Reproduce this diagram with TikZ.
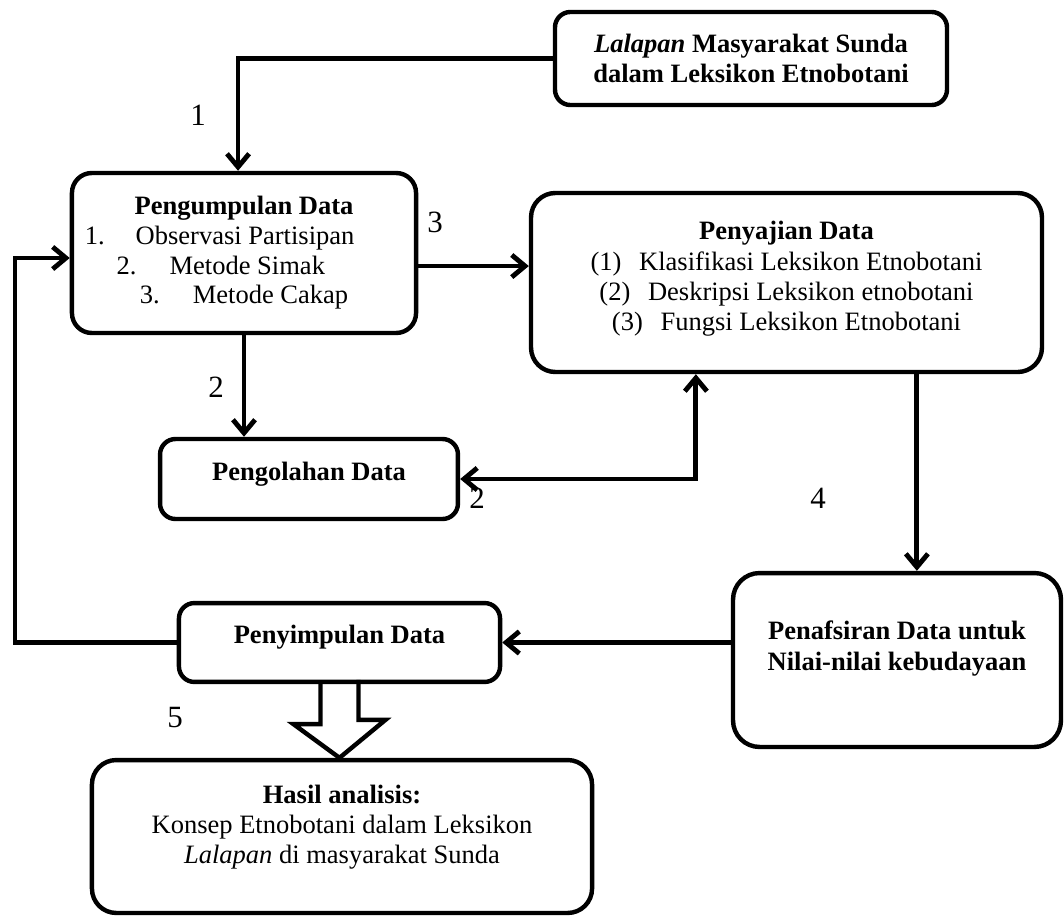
\documentclass[tikz,border=0pt]{standalone}
\usepackage{fontspec}
\setmainfont{Liberation Serif}
\usepackage{tikz}
\usetikzlibrary{positioning}
\usetikzlibrary{arrows.meta}

\tikzset{
  box/.style={draw, line width=2pt, rounded corners=9pt, align=center, inner sep=0pt,
    font=\fontsize{12}{13.6}\selectfont},
  flow/.style={line width=2.2pt, -{Straight Barb[length=6pt,width=10pt]}},
  flowboth/.style={line width=2.2pt, {Straight Barb[length=6pt,width=10pt]}-{Straight Barb[length=6pt,width=10pt]}},
  num/.style={font=\fontsize{14}{16}\selectfont, inner sep=0pt},
}
\newcommand{\sink}[1]{\rule[-#1]{0pt}{0pt}}

\begin{document}
\begin{tikzpicture}[x=0.4525pt,y=-0.4525pt]
\useasboundingbox (0,0) rectangle (1064,916);

% boxes
\node[box, rounded corners=7pt, minimum width=177.4pt, minimum height=42.1pt] (lal) at (751,58.5)
{\textbf{\textit{Lalapan} Masyarakat Sunda}\\\textbf{dalam Leksikon Etnobotani}};
\node[box, font=\fontsize{12}{13.4}\selectfont, minimum width=155.7pt, minimum height=72.4pt] (collect) at (244,253)
{\textbf{Pengumpulan Data}\\1.\hspace{14pt}Observasi Partisipan\hspace{22pt}\mbox{}\\2.\hspace{15pt}Metode Simak\hspace{21pt}\mbox{}\\3.\hspace{15pt}Metode Cakap\sink{1pt}};
\node[box, rounded corners=11pt, minimum width=231.2pt, minimum height=81pt] (present) at (786.5,282.5)
{\textbf{Penyajian Data}\\(1)\hspace{8pt}Klasifikasi Leksikon Etnobotani\\(2)\hspace{8pt}Deskripsi Leksikon etnobotani\\(3)\hspace{8pt}Fungsi Leksikon Etnobotani\sink{6pt}};
\node[box, rounded corners=7pt, minimum width=134.8pt, minimum height=36.2pt] (process) at (309,479)
{\textbf{Pengolahan Data}\sink{7pt}};
\node[box, rounded corners=12pt, minimum width=148.4pt, minimum height=78.7pt] (interp) at (897,660)
{\textbf{Penafsiran Data untuk}\\\textbf{Nilai-nilai kebudayaan}\sink{13pt}};
\node[box, rounded corners=7pt, minimum width=145.3pt, minimum height=35.7pt] (conclude) at (339.5,642.5)
{\textbf{Penyimpulan Data}\sink{7pt}};
\node[box, rounded corners=11pt, minimum width=226.3pt, minimum height=69.2pt] (result) at (342,836.5)
{\textbf{Hasil analisis:}\\Konsep Etnobotani dalam Leksikon\\\textit{Lalapan} di masyarakat Sunda\sink{11pt}};

% step numbers
\node[num] (n1) at (198,115) {1};
\node[num] (n2a) at (216,387) {2};
\node[num] (n3) at (435,222) {3};
\node[num] (n2b) at (477,498) {2};
\node[num] (n4) at (818,498) {4};
\node[num] (n5) at (175,718) {5};

% connectors
\draw[flow] (lal.west) -| ([xshift=-2.7pt]collect.north);
\draw[flow] (collect.south) -- (collect.south |- process.north);
\draw[flow] ([yshift=-5.9pt]collect.east) -- ([yshift=-5.9pt]collect.east -| present.west);
\draw[flowboth] (process.east) -| ([xshift=-41pt]present.south);
\draw[flow] ([xshift=9pt]interp.north |- present.south) -- ([xshift=9pt]interp.north);
\draw[flow] (interp.west |- conclude.east) -- (conclude.east);
\coordinate (back) at (15,258);
\draw[flow] (conclude.west) -| (back) -- (collect.west |- back);

% hollow arrow to the result
\draw[line width=2pt] ([xshift=-8.6pt]conclude.south) -- ++(0,40) -- ++(-27,0)
  -- (conclude.south |- result.north) -- ++(46,-38) -- ++(-27,0) -- ++(0,-40);
\end{tikzpicture}
\end{document}
